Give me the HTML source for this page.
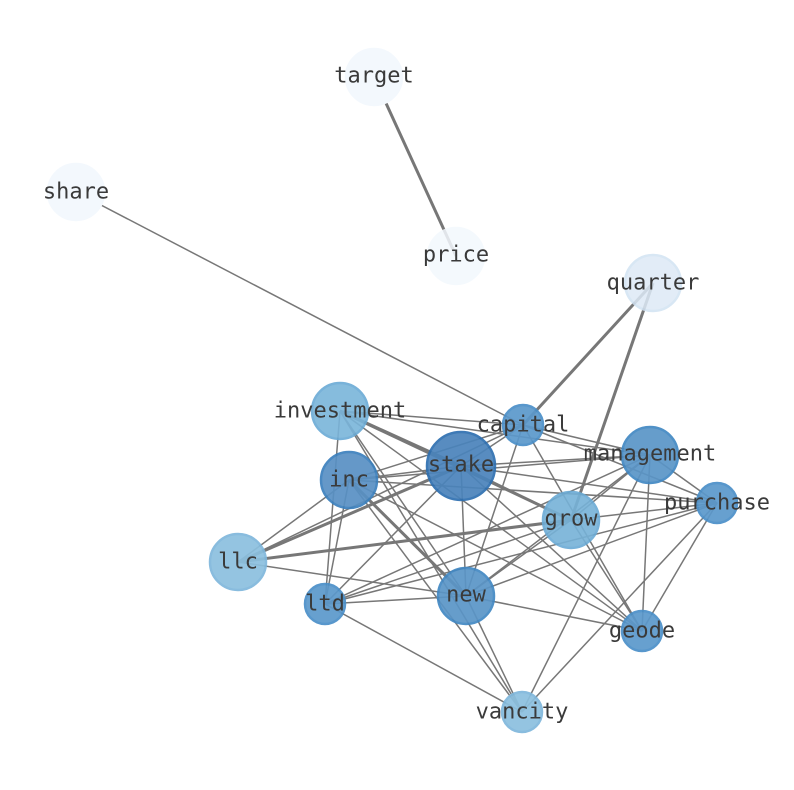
<!DOCTYPE html>
<html><head><meta charset="utf-8"><style>html,body{margin:0;padding:0;background:#fff}svg{display:block}</style></head>
<body>
<svg width="794" height="790" viewBox="0 0 794 790" xmlns="http://www.w3.org/2000/svg">
<g stroke="#777" stroke-width="1.5" fill="none">
<line x1="374" y1="77" x2="456" y2="256" stroke-width="3"/>
<line x1="76" y1="192" x2="523" y2="425"/>
<line x1="653" y1="283" x2="523" y2="425" stroke-width="3"/>
<line x1="653" y1="283" x2="571" y2="520" stroke-width="3"/>
<line x1="340" y1="411" x2="461" y2="466" stroke-width="3"/>
<line x1="340" y1="411" x2="523" y2="425"/>
<line x1="340" y1="411" x2="650" y2="455"/>
<line x1="340" y1="411" x2="571" y2="520" stroke-width="3"/>
<line x1="340" y1="411" x2="466" y2="596"/>
<line x1="340" y1="411" x2="642" y2="631"/>
<line x1="340" y1="411" x2="325" y2="604"/>
<line x1="340" y1="411" x2="522" y2="712"/>
<line x1="349" y1="480" x2="461" y2="466"/>
<line x1="349" y1="480" x2="523" y2="425"/>
<line x1="349" y1="480" x2="650" y2="455"/>
<line x1="349" y1="480" x2="717" y2="503"/>
<line x1="349" y1="480" x2="466" y2="596" stroke-width="3"/>
<line x1="349" y1="480" x2="238" y2="562"/>
<line x1="349" y1="480" x2="325" y2="604"/>
<line x1="349" y1="480" x2="642" y2="631"/>
<line x1="349" y1="480" x2="522" y2="712"/>
<line x1="461" y1="466" x2="523" y2="425"/>
<line x1="461" y1="466" x2="650" y2="455"/>
<line x1="461" y1="466" x2="717" y2="503"/>
<line x1="461" y1="466" x2="571" y2="520"/>
<line x1="461" y1="466" x2="238" y2="562" stroke-width="3"/>
<line x1="461" y1="466" x2="325" y2="604"/>
<line x1="461" y1="466" x2="466" y2="596"/>
<line x1="461" y1="466" x2="642" y2="631"/>
<line x1="523" y1="425" x2="650" y2="455"/>
<line x1="523" y1="425" x2="717" y2="503"/>
<line x1="523" y1="425" x2="642" y2="631"/>
<line x1="523" y1="425" x2="466" y2="596"/>
<line x1="523" y1="425" x2="238" y2="562"/>
<line x1="650" y1="455" x2="571" y2="520"/>
<line x1="650" y1="455" x2="466" y2="596"/>
<line x1="650" y1="455" x2="325" y2="604"/>
<line x1="650" y1="455" x2="522" y2="712"/>
<line x1="650" y1="455" x2="642" y2="631"/>
<line x1="650" y1="455" x2="717" y2="503"/>
<line x1="717" y1="503" x2="571" y2="520"/>
<line x1="717" y1="503" x2="466" y2="596"/>
<line x1="717" y1="503" x2="642" y2="631"/>
<line x1="717" y1="503" x2="522" y2="712"/>
<line x1="717" y1="503" x2="325" y2="604"/>
<line x1="571" y1="520" x2="238" y2="562" stroke-width="3"/>
<line x1="571" y1="520" x2="325" y2="604"/>
<line x1="571" y1="520" x2="466" y2="596"/>
<line x1="571" y1="520" x2="642" y2="631"/>
<line x1="238" y1="562" x2="466" y2="596"/>
<line x1="325" y1="604" x2="466" y2="596"/>
<line x1="325" y1="604" x2="522" y2="712"/>
<line x1="466" y1="596" x2="642" y2="631"/>
<line x1="466" y1="596" x2="522" y2="712"/>
</g>
<g stroke-width="2.5">
<circle cx="374" cy="77" r="28" fill="#f3f8fd" stroke="#f3f8fd"/>
<circle cx="76" cy="192" r="28" fill="#f3f8fd" stroke="#f3f8fd"/>
<circle cx="456" cy="256" r="28" fill="#f3f8fd" stroke="#f3f8fd" opacity="0.85"/>
<circle cx="653" cy="283" r="28" fill="#dde9f6" stroke="#d2e3f3" opacity="0.85"/>
<circle cx="340" cy="411" r="28" fill="#7ab5da" stroke="#6aaad5" opacity="0.9"/>
<circle cx="349" cy="480" r="28" fill="#5890c4" stroke="#3b80bd" opacity="0.92"/>
<circle cx="461" cy="466" r="34" fill="#4a83bb" stroke="#2e6fb0" opacity="0.92"/>
<circle cx="523" cy="425" r="20" fill="#5b98cb" stroke="#4a8fc8" opacity="0.92"/>
<circle cx="650" cy="455" r="28" fill="#5a95c7" stroke="#4288c3" opacity="0.92"/>
<circle cx="717" cy="503" r="20" fill="#5b98cb" stroke="#4a8fc8" opacity="0.92"/>
<circle cx="571" cy="520" r="28" fill="#76b2d8" stroke="#6aaad5" opacity="0.9"/>
<circle cx="238" cy="562" r="28" fill="#8cc0df" stroke="#7fb7dc" opacity="0.92"/>
<circle cx="325" cy="604" r="20" fill="#5b98cb" stroke="#4a8fc8" opacity="0.92"/>
<circle cx="466" cy="596" r="28" fill="#5a95c7" stroke="#4288c3" opacity="0.92"/>
<circle cx="642" cy="631" r="20" fill="#5b98cb" stroke="#4a8fc8" opacity="0.92"/>
<circle cx="522" cy="712" r="20" fill="#8cc0df" stroke="#7fb7dc" opacity="0.92"/>
</g>
<g font-family="DejaVu Sans Mono, Liberation Mono, monospace" font-size="22" fill="#3a3a3a" text-anchor="middle" dominant-baseline="central">
<text x="374" y="76">target</text>
<text x="76" y="192">share</text>
<text x="456" y="255">price</text>
<text x="653" y="283">quarter</text>
<text x="340" y="411">investment</text>
<text x="349" y="480">inc</text>
<text x="461" y="465">stake</text>
<text x="523" y="425">capital</text>
<text x="650" y="454">management</text>
<text x="717" y="503">purchase</text>
<text x="571" y="519">grow</text>
<text x="238" y="562">llc</text>
<text x="325" y="604">ltd</text>
<text x="466" y="595">new</text>
<text x="642" y="631">geode</text>
<text x="522" y="712">vancity</text>
</g>
</svg>
</body></html>
